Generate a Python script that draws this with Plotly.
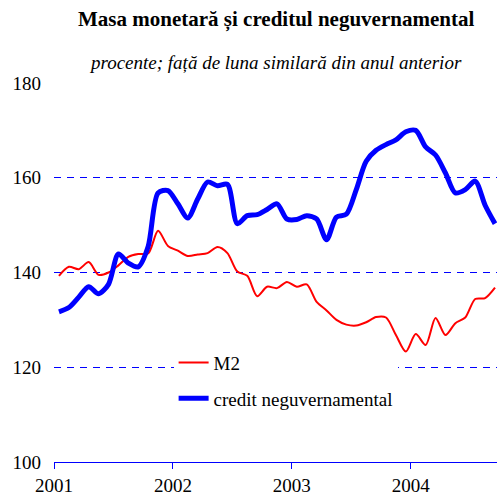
import plotly.graph_objects as go

months = list(range(45))  # Jan 2001 .. Sep 2004, monthly index
m2 = [139.3, 141.2, 140.7, 142.2, 139.5, 140.0, 141.5, 143.3, 143.9, 144.0,
      148.8, 145.6, 144.6, 143.5, 143.8, 144.1, 145.4, 144.1, 140.2, 139.3,
      135.0, 137.0, 136.7, 138.0, 137.0, 137.5, 133.8, 132.0, 130.0, 129.0,
      128.8, 129.5, 130.6, 130.5, 126.8, 123.3, 127.0, 124.7, 130.4, 126.8,
      129.3, 130.5, 134.4, 134.6, 136.8]
credit = [131.7, 132.6, 134.8, 137.0, 135.5, 137.5, 143.9, 142.0, 141.2, 145.5,
          156.8, 157.3, 154.5, 151.5, 155.5, 159.1, 158.3, 158.6, 150.3, 152.0,
          152.2, 153.3, 154.5, 151.3, 151.2, 152.0, 151.3, 146.9, 151.7, 152.3,
          157.5, 163.5, 165.8, 167.0, 168.0, 169.7, 170.0, 166.5, 164.8, 161.0,
          156.8, 157.5, 159.3, 154.2, 150.3]
year_ticks = [-0.5, 11.5, 23.5, 35.5]
year_labels = ["2001", "2002", "2003", "2004"]
y_ticks = [100, 120, 140, 160, 180]

FONT = "Liberation Serif, Times New Roman, serif"

fig = go.Figure()
fig.add_trace(go.Scatter(x=months, y=m2, mode="lines", name="M2", legendgroup="a",
                         line=dict(color="#ff0000", width=2, shape="spline", smoothing=0.8)))
fig.add_trace(go.Scatter(x=months, y=credit, mode="lines", name="credit neguvernamental",
                         legendgroup="b",
                         line=dict(color="#0000ff", width=5, shape="spline", smoothing=0.8)))

fig.update_layout(
    width=497, height=496,
    margin=dict(l=54, r=0, t=83, b=34),
    paper_bgcolor="white", plot_bgcolor="white",
    font=dict(family=FONT, size=19, color="black"),
    hovermode=False,
    showlegend=True,
    legend=dict(x=0.27, y=0.312, xanchor="left", yanchor="top",
                bgcolor="white", font=dict(family=FONT, size=19),
                traceorder="grouped", tracegroupgap=8),
    xaxis=dict(range=[-0.5, 44.2], tickmode="array", tickvals=year_ticks,
               ticktext=year_labels, showgrid=False, zeroline=False,
               showline=True, linecolor="#0000ff", linewidth=1,
               ticks="outside", ticklen=6, tickcolor="#0000ff", tickwidth=1,
               tickfont=dict(family=FONT, size=19)),
    yaxis=dict(range=[100, 180], tickmode="array", tickvals=y_ticks,
               showgrid=True, gridcolor="#0000ff", gridwidth=1, griddash="7px,6px",
               zeroline=False, showline=False, ticks="",
               ticklabelstandoff=12,
               tickfont=dict(family=FONT, size=19)),
    annotations=[
        dict(text="<b>Masa monetară și creditul neguvernamental</b>", xref="paper", yref="paper",
             x=0.5, y=1, yshift=64, yanchor="middle", showarrow=False,
             font=dict(family=FONT, size=21, color="black")),
        dict(text="<i>procente; față de luna similară din anul anterior</i>", xref="paper", yref="paper",
             x=0.5, y=1, yshift=21, yanchor="middle", showarrow=False,
             font=dict(family=FONT, size=19, color="black")),
    ],
)

fig.write_html("out.html",
               config={"displayModeBar": False, "staticPlot": True},
               post_script="document.body.style.margin='0';document.body.style.overflow='hidden';")
